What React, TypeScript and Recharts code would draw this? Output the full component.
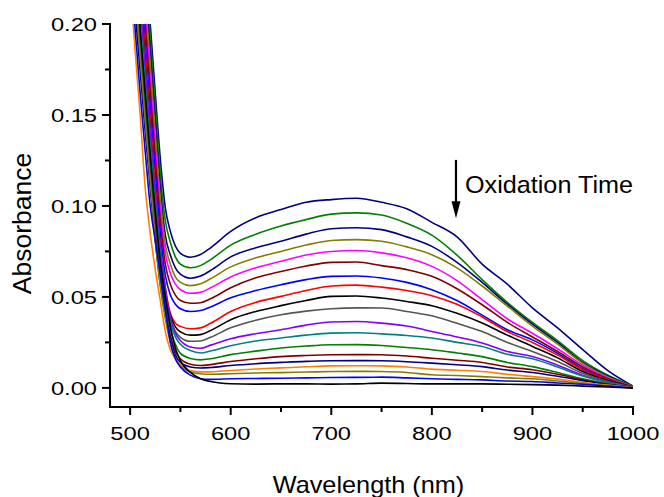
import React from 'react';
import { LineChart, Line, XAxis, YAxis, ReferenceLine, Label } from 'recharts';

const wavelengths = [500, 505, 510, 515, 520, 525, 530, 535, 540, 545, 550, 560, 570, 580, 600, 625, 650, 675, 700, 725, 750, 775, 800, 825, 850, 875, 900, 925, 950, 975, 1000];

const s1 = [0.355, 0.318, 0.278, 0.240, 0.200, 0.162, 0.126, 0.099, 0.086, 0.078, 0.0740, 0.0718, 0.0733, 0.0770, 0.0860, 0.0935, 0.0980, 0.1020, 0.1035, 0.1042, 0.1020, 0.0985, 0.0910, 0.0830, 0.0680, 0.0570, 0.0440, 0.0330, 0.0210, 0.0095, 0.0010];
const s2 = [0.345, 0.310, 0.270, 0.232, 0.193, 0.155, 0.118, 0.092, 0.080, 0.072, 0.068, 0.0660, 0.0672, 0.0705, 0.0785, 0.0845, 0.0890, 0.0925, 0.0955, 0.0962, 0.0950, 0.0905, 0.0840, 0.0730, 0.0595, 0.0470, 0.0360, 0.0260, 0.0150, 0.0070, 0.0010];
const s3 = [0.335, 0.300, 0.262, 0.222, 0.185, 0.147, 0.110, 0.084, 0.073, 0.066, 0.0625, 0.0603, 0.0615, 0.0645, 0.0720, 0.0770, 0.0806, 0.0845, 0.0875, 0.0880, 0.0870, 0.0830, 0.0778, 0.0690, 0.0580, 0.0460, 0.0350, 0.0250, 0.0140, 0.0065, 0.0008];
const s4 = [0.325, 0.290, 0.252, 0.214, 0.178, 0.140, 0.104, 0.079, 0.068, 0.061, 0.058, 0.0562, 0.0572, 0.0600, 0.0665, 0.0715, 0.0750, 0.0785, 0.0810, 0.0815, 0.0806, 0.0775, 0.0732, 0.0660, 0.0560, 0.0450, 0.0340, 0.0240, 0.0135, 0.0060, 0.0008];
const s5 = [0.320, 0.285, 0.246, 0.208, 0.170, 0.133, 0.098, 0.074, 0.063, 0.057, 0.054, 0.0520, 0.0525, 0.0550, 0.0610, 0.0660, 0.0696, 0.0730, 0.0750, 0.0755, 0.0742, 0.0715, 0.0668, 0.0590, 0.0485, 0.0380, 0.0300, 0.0215, 0.0125, 0.0055, 0.0005];
const s6 = [0.310, 0.275, 0.237, 0.200, 0.163, 0.126, 0.092, 0.068, 0.057, 0.051, 0.048, 0.0465, 0.0468, 0.0490, 0.0550, 0.0605, 0.0640, 0.0670, 0.0690, 0.0692, 0.0672, 0.0650, 0.0613, 0.0545, 0.0457, 0.0360, 0.0280, 0.0200, 0.0115, 0.0050, 0.0005];
const s7 = [0.300, 0.265, 0.228, 0.190, 0.154, 0.118, 0.085, 0.062, 0.051, 0.046, 0.0435, 0.0420, 0.0425, 0.0445, 0.0495, 0.0535, 0.0567, 0.0595, 0.0613, 0.0615, 0.0604, 0.0580, 0.0540, 0.0480, 0.0400, 0.0320, 0.0264, 0.0190, 0.0105, 0.0045, 0.0005];
const s8 = [0.295, 0.260, 0.222, 0.184, 0.147, 0.111, 0.078, 0.055, 0.041, 0.0355, 0.0338, 0.0325, 0.0330, 0.0355, 0.0420, 0.0470, 0.0503, 0.0535, 0.0560, 0.0565, 0.0554, 0.0535, 0.0507, 0.0460, 0.0390, 0.0310, 0.0250, 0.0180, 0.0100, 0.0045, 0.0005];
const s9 = [0.290, 0.255, 0.217, 0.178, 0.141, 0.105, 0.074, 0.052, 0.040, 0.0335, 0.0308, 0.0290, 0.0293, 0.0315, 0.0375, 0.0420, 0.0452, 0.0480, 0.0503, 0.0505, 0.0494, 0.0475, 0.0452, 0.0410, 0.0357, 0.0290, 0.0228, 0.0165, 0.0090, 0.0040, 0.0005];
const s10 = [0.285, 0.250, 0.213, 0.176, 0.140, 0.105, 0.074, 0.051, 0.038, 0.031, 0.0278, 0.0256, 0.0258, 0.0278, 0.0330, 0.0372, 0.0402, 0.0422, 0.0435, 0.0440, 0.0439, 0.0420, 0.0396, 0.0355, 0.0310, 0.0250, 0.0200, 0.0145, 0.0080, 0.0035, 0.0003];
const s11 = [0.280, 0.246, 0.211, 0.175, 0.140, 0.107, 0.078, 0.055, 0.039, 0.030, 0.0260, 0.0225, 0.0218, 0.0235, 0.0270, 0.0298, 0.0320, 0.0345, 0.0362, 0.0365, 0.0356, 0.0340, 0.0310, 0.0280, 0.0247, 0.0200, 0.0172, 0.0125, 0.0070, 0.0030, 0.0003];
const s12 = [0.270, 0.236, 0.201, 0.166, 0.132, 0.101, 0.072, 0.048, 0.036, 0.028, 0.0240, 0.0205, 0.0192, 0.0203, 0.0232, 0.0258, 0.0274, 0.0290, 0.0301, 0.0303, 0.0297, 0.0288, 0.0274, 0.0250, 0.0228, 0.0185, 0.0160, 0.0115, 0.0065, 0.0028, 0.0002];
const s13 = [0.260, 0.225, 0.190, 0.155, 0.122, 0.092, 0.066, 0.046, 0.032, 0.024, 0.0190, 0.0162, 0.0154, 0.0160, 0.0183, 0.0202, 0.0219, 0.0230, 0.0237, 0.0238, 0.0233, 0.0222, 0.0210, 0.0192, 0.0172, 0.0140, 0.0117, 0.0085, 0.0050, 0.0022, 0.0002];
const s14 = [0.250, 0.216, 0.182, 0.148, 0.116, 0.086, 0.061, 0.042, 0.029, 0.020, 0.0160, 0.0130, 0.0123, 0.0128, 0.0145, 0.0160, 0.0172, 0.0178, 0.0182, 0.0183, 0.0182, 0.0175, 0.0163, 0.0152, 0.0140, 0.0115, 0.0100, 0.0075, 0.0045, 0.0020, 0.0002];
const s15 = [0.240, 0.207, 0.174, 0.141, 0.110, 0.081, 0.057, 0.040, 0.027, 0.018, 0.0140, 0.0115, 0.0109, 0.0112, 0.0123, 0.0133, 0.0140, 0.0146, 0.0149, 0.0150, 0.0149, 0.0144, 0.0136, 0.0127, 0.0117, 0.0098, 0.0085, 0.0064, 0.0040, 0.0018, 0.0002];
const s16 = [0.225, 0.185, 0.150, 0.110, 0.085, 0.065, 0.048, 0.031, 0.021, 0.016, 0.0130, 0.0095, 0.0088, 0.0088, 0.0096, 0.0104, 0.0110, 0.0116, 0.0121, 0.0122, 0.0121, 0.0115, 0.0103, 0.0097, 0.0090, 0.0075, 0.0062, 0.0048, 0.0030, 0.0015, 0.0002];
const s17 = [0.255, 0.218, 0.182, 0.147, 0.114, 0.082, 0.056, 0.038, 0.025, 0.016, 0.0120, 0.0088, 0.0078, 0.0075, 0.0078, 0.0082, 0.0084, 0.0087, 0.0090, 0.0091, 0.0090, 0.0085, 0.0072, 0.0068, 0.0062, 0.0055, 0.0050, 0.0038, 0.0025, 0.0012, 0.0001];
const s18 = [0.235, 0.197, 0.162, 0.130, 0.100, 0.081, 0.063, 0.044, 0.025, 0.016, 0.0115, 0.0070, 0.0050, 0.0047, 0.0050, 0.0052, 0.0053, 0.0055, 0.0057, 0.0058, 0.0059, 0.0055, 0.0050, 0.0047, 0.0044, 0.0038, 0.0035, 0.0027, 0.0020, 0.0010, 0.0000];
const s19 = [0.270, 0.233, 0.197, 0.162, 0.128, 0.097, 0.070, 0.050, 0.034, 0.022, 0.0150, 0.0085, 0.0050, 0.0035, 0.0023, 0.0021, 0.0022, 0.0022, 0.0021, 0.0022, 0.0026, 0.0024, 0.0022, 0.0022, 0.0022, 0.0020, 0.0018, 0.0015, 0.0010, 0.0005, -0.0002];

const seriesValues = [s1, s2, s3, s4, s5, s6, s7, s8, s9, s10, s11, s12, s13, s14, s15, s16, s17, s18, s19];
const seriesColors = ['#000080', '#008000', '#000080', '#808000', '#FF00FF', '#800000', '#0000FF', '#FF0000', '#000000', '#555555', '#8000FF', '#008080', '#008000', '#800000', '#000080', '#FF8000', '#808000', '#0000FF', '#000000'];

const xTicks = [500, 550, 600, 650, 700, 750, 800, 850, 900, 950, 1000];
const yTicks = [0, 0.025, 0.05, 0.075, 0.1, 0.125, 0.15, 0.175, 0.2];
const xTitle = 'Wavelength (nm)';
const yTitle = 'Absorbance';
const annotationText = 'Oxidation Time';
const arrowX = 824;
const arrowTop = 0.1253;
const arrowBottom = 0.0932;

const data = wavelengths.map((w, i) => {
  const row: any = { w };
  seriesValues.forEach((s, k) => {
    row['s' + k] = s[i];
  });
  return row;
});

const FONT = '"Liberation Sans", Arial, sans-serif';

const XTick = (props: any) => {
  const { x, y, payload } = props;
  const major = Math.round(payload.value) % 100 === 0;
  return (
    <g>
      <line x1={x} y1={y} x2={x} y2={y + (major ? 8 : 5)} stroke="#000" strokeWidth={2} />
      {major && (
        <text
          transform={`translate(${x},${y + 33}) scale(1.28,1)`}
          textAnchor="middle"
          fontFamily={FONT}
          fontSize={18.5}
          fill="#000"
        >
          {payload.value}
        </text>
      )}
    </g>
  );
};

const YTick = (props: any) => {
  const { x, y, payload } = props;
  const v = payload.value;
  const major = Math.abs(Math.round(v * 20) - v * 20) < 1e-6;
  return (
    <g>
      <line x1={x - (major ? 8 : 5)} y1={y} x2={x} y2={y} stroke="#000" strokeWidth={2} />
      {major && (
        <text
          transform={`translate(${x - 13},${y + 6.7}) scale(1.28,1)`}
          textAnchor="end"
          fontFamily={FONT}
          fontSize={18.5}
          fill="#000"
        >
          {v.toFixed(2)}
        </text>
      )}
    </g>
  );
};

const ArrowShape = (props: any) => {
  const { x1, y1, y2 } = props;
  const headH = 17;
  return (
    <g>
      <line x1={x1} y1={y1} x2={x1} y2={y2 - headH + 3} stroke="#000" strokeWidth={2.2} />
      <polygon points={`${x1 - 4.5},${y2 - headH} ${x1 + 4.5},${y2 - headH} ${x1},${y2}`} fill="#000" />
      <text
        transform={`translate(${x1 + 9},${y1 + 33}) scale(1.05,1)`}
        fontFamily={FONT}
        fontSize={24}
        fill="#000"
      >
        {annotationText}
      </text>
    </g>
  );
};

export default function App() {
  return (
    <div style={{ position: 'absolute', left: 0, top: 0, width: 664, height: 497, background: '#fff' }}>
      <LineChart width={664} height={497} data={data} margin={{ top: 24, right: 31, bottom: 0, left: 0 }}>
        <XAxis
          type="number"
          dataKey="w"
          domain={[480, 1000]}
          ticks={xTicks}
          interval={0}
          allowDataOverflow
          height={90}
          tickSize={0}
          tickMargin={0}
          tickLine={false}
          tick={<XTick />}
          axisLine={{ stroke: '#000', strokeWidth: 2, strokeLinecap: 'square' }}
        >
          <Label
            content={(p: any) => {
              const vb = p.viewBox || { x: 110, y: 407, width: 523, height: 90 };
              const cx = vb.x + vb.width / 2 - 3;
              return (
                <text
                  transform={`translate(${cx},${vb.y + 86}) scale(1.1,1)`}
                  textAnchor="middle"
                  fontFamily={FONT}
                  fontSize={23}
                  fill="#000"
                >
                  {xTitle}
                </text>
              );
            }}
          />
        </XAxis>
        <YAxis
          type="number"
          domain={[-0.0105, 0.2]}
          ticks={yTicks}
          interval={0}
          allowDataOverflow
          width={110}
          tickSize={0}
          tickMargin={0}
          tickLine={false}
          tick={<YTick />}
          axisLine={{ stroke: '#000', strokeWidth: 2, strokeLinecap: 'square' }}
        >
          <Label
            content={(p: any) => {
              const vb = p.viewBox || { x: 0, y: 24, width: 110, height: 383 };
              const cy = vb.y + vb.height / 2 + 8;
              return (
                <text
                  transform={`translate(31,${cy}) rotate(-90)`}
                  textAnchor="middle"
                  fontFamily={FONT}
                  fontSize={26.5}
                  fill="#000"
                >
                  {yTitle}
                </text>
              );
            }}
          />
        </YAxis>
        {seriesValues.map((_, k) => (
          <Line
            key={k}
            type="monotone"
            dataKey={'s' + k}
            stroke={seriesColors[k]}
            strokeWidth={1.6}
            dot={false}
            activeDot={false}
            isAnimationActive={false}
          />
        ))}
        <ReferenceLine
          segment={[{ x: arrowX, y: arrowTop }, { x: arrowX, y: arrowBottom }]}
          shape={<ArrowShape />}
          ifOverflow="visible"
        />
      </LineChart>
    </div>
  );
}
